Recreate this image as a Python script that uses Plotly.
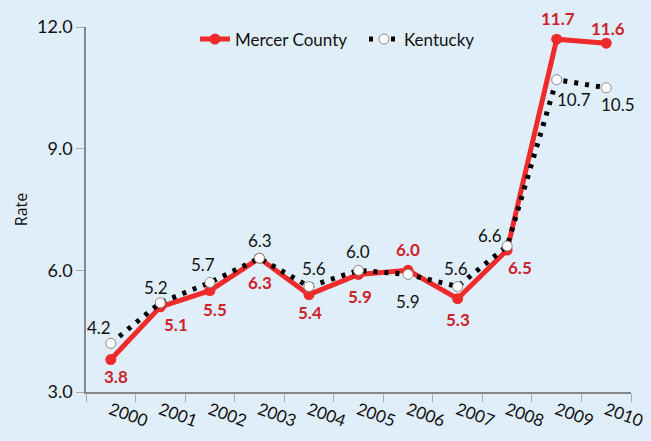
import plotly.graph_objects as go

years = [2000, 2001, 2002, 2003, 2004, 2005, 2006, 2007, 2008, 2009, 2010]
mercer = [3.8, 5.1, 5.5, 6.3, 5.4, 5.9, 6.0, 5.3, 6.5, 11.7, 11.6]
kentucky = [4.2, 5.2, 5.7, 6.3, 5.6, 6.0, 5.9, 5.6, 6.6, 10.7, 10.5]
y_ticks = [3.0, 6.0, 9.0, 12.0]

# label offsets in pixels (x, y) - styling only
mercer_off = [(5, -17), (16, -18), (5, -19), (1, -24), (1, -18), (1, -22), (0, 21),
              (0, -21), (13, -17), (1, 21), (2, 15)]
kentucky_off = [(-12, 16), (-4, 15), (-7, 18), (1, 18), (5, 18), (-1, 19), (0, -27),
                (-2, 18), (-17, 11), (17, -20), (12, -17)]

RED = "#EE2A2A"
RED_TXT = "#CC2229"
BG = "#E0EEF9"
FONT = "Lato"

fig = go.Figure()
fig.add_trace(go.Scatter(
    x=years, y=mercer, name="Mercer County", mode="lines+markers",
    line=dict(color=RED, width=5),
    marker=dict(color=RED, size=11),
))
fig.add_trace(go.Scatter(
    x=years, y=kentucky, name="Kentucky", mode="lines+markers",
    line=dict(color="black", width=5, dash="4px,7px"),
    marker=dict(color="white", size=10, line=dict(color="#888888", width=1)),
))

annotations = []
for yr, v, (dx, dy) in zip(years, mercer, mercer_off):
    annotations.append(dict(x=yr, y=v, text=f"{v:.1f}", showarrow=False,
                            xshift=dx, yshift=dy,
                            font=dict(family=FONT, size=17, color=RED_TXT, weight="bold")))
for yr, v, (dx, dy) in zip(years, kentucky, kentucky_off):
    annotations.append(dict(x=yr, y=v, text=f"{v:.1f}", showarrow=False,
                            xshift=dx, yshift=dy,
                            font=dict(family=FONT, size=17, color="#111111")))

boundaries = [y - 0.5 for y in years] + [years[-1] + 0.5]

fig.update_layout(
    width=651, height=441,
    margin=dict(l=86, r=20, t=27, b=49, autoexpand=False),
    paper_bgcolor=BG, plot_bgcolor=BG,
    font=dict(family=FONT, size=17, color="#111111"),
    showlegend=True,
    legend=dict(orientation="h", x=0.2, xanchor="left", y=1.015, yanchor="top",
                bgcolor="rgba(0,0,0,0)", font=dict(size=17), itemwidth=30,
                entrywidth=124),
    annotations=annotations,
    xaxis=dict(range=[years[0] - 0.5, years[-1] + 0.5], automargin=False,
               tickvals=years, ticktext=[str(y) for y in years],
               showline=True, linecolor="#888888", linewidth=1.5,
               ticks="", tickangle=20, showgrid=False, zeroline=False,
               tickfont=dict(size=17),
               minor=dict(tickvals=boundaries, ticks="outside", ticklen=8,
                          tickcolor="#aaaaaa", showgrid=False)),
    yaxis=dict(range=[3, 12], tickvals=y_ticks, automargin=False,
               ticktext=[f"{t:.1f}" for t in y_ticks],
               showline=True, linecolor="#888888", linewidth=1.5,
               ticks="outside", ticklen=8, tickcolor="#aaaaaa",
               showgrid=False, zeroline=False,
               title=dict(text="Rate", font=dict(family="Open Sans", size=16), standoff=5),
               tickfont=dict(size=18)),
)

fig.write_html("out.html", config={"displayModeBar": False},
               post_script="document.body.style.margin='0';document.body.style.background='%s';" % BG)
